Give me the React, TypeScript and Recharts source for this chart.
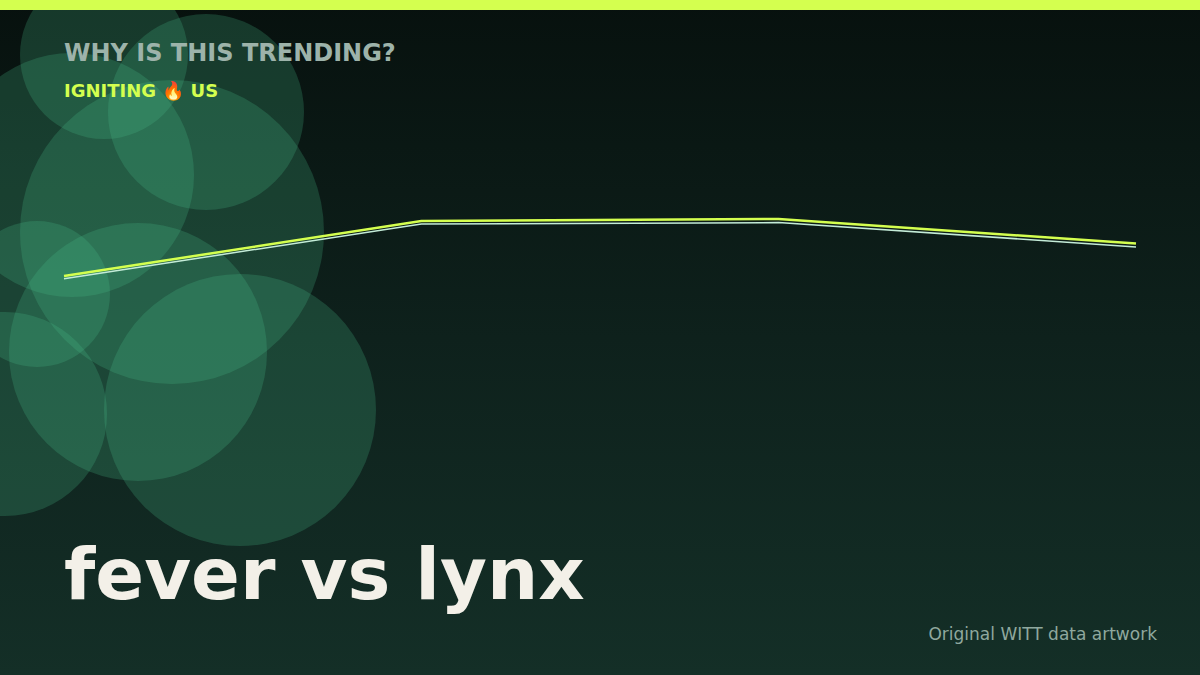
import { LineChart, Line, XAxis, YAxis } from 'recharts';

const PERIODS = ['P1', 'P2', 'P3', 'P4'];
const FEVER = [48, 66.3, 67, 58.8];
const LYNX = [47.1, 65.3, 65.8, 57.7];

// decorative background bubbles: [cx, cy, r]
const BUBBLES: [number, number, number][] = [
  [104, 55, 84],
  [206, 112, 98],
  [72, 175, 122],
  [172, 232, 152],
  [37, 294, 73],
  [138, 352, 129],
  [5, 414, 102],
  [240, 410, 136],
];

const data = PERIODS.map((p, i) => ({ period: p, fever: FEVER[i], lynx: LYNX[i] }));

export default function App() {
  return (
    <div
      style={{
        position: 'relative',
        width: 1200,
        height: 675,
        overflow: 'hidden',
        background: 'linear-gradient(180deg, #07110e 0%, #0e211c 50%, #142f27 100%)',
        fontFamily: '"DejaVu Sans", sans-serif',
      }}
    >
      <style>{'body{margin:0}'}</style>

      <svg width={1200} height={675} style={{ position: 'absolute', left: 0, top: 0 }}>
        {BUBBLES.map(([cx, cy, r], i) => (
          <circle key={i} cx={cx} cy={cy} r={r} fill="rgb(72,190,140)" fillOpacity={0.23} />
        ))}
      </svg>

      <div style={{ position: 'absolute', left: 0, top: 0, width: 1200, height: 10, background: '#d4ff4f' }} />

      <div style={{ position: 'absolute', left: 0, top: 0 }}>
        <LineChart width={1200} height={675} data={data} margin={{ top: 120, right: 64, bottom: 255, left: 64 }}>
          <XAxis dataKey="period" hide />
          <YAxis domain={[0, 100]} hide />
          <Line dataKey="lynx" stroke="#c4ecd8" strokeWidth={1.5} dot={false} type="linear" isAnimationActive={false} />
          <Line dataKey="fever" stroke="#d4ff4f" strokeWidth={2.5} dot={false} type="linear" isAnimationActive={false} />
        </LineChart>
      </div>

      <div style={{ position: 'absolute', left: 64, top: 39, fontSize: 24, fontWeight: 700, color: '#9db3aa', lineHeight: 1.2 }}>
        WHY IS THIS TRENDING?
      </div>
      <div style={{ position: 'absolute', left: 64, top: 80, fontSize: 18, fontWeight: 700, color: '#d4ff4f', lineHeight: 1.2 }}>
        IGNITING 🔥 US
      </div>
      <div
        style={{
          position: 'absolute',
          left: 64,
          top: 531,
          fontSize: 72,
          fontWeight: 700,
          color: '#f3f0e8',
          lineHeight: 1.2,
        }}
      >
        fever vs lynx
      </div>
      <div style={{ position: 'absolute', right: 43, top: 624, fontSize: 17, color: '#8fa89e', lineHeight: 1.2 }}>
        Original WITT data artwork
      </div>
    </div>
  );
}
